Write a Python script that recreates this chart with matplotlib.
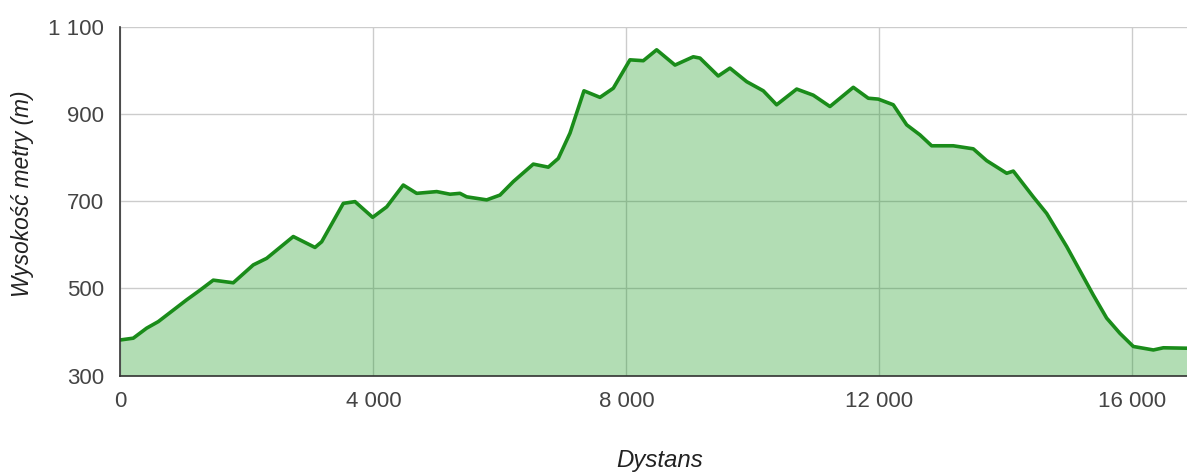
import numpy as np
import matplotlib.pyplot as plt
from matplotlib.ticker import FuncFormatter

# Profil wysokości trasy
dystans = [0, 202, 414, 598, 1047, 1257, 1467, 1573, 1783, 2100, 2311, 2732,
           3075, 3181, 3523, 3708, 3987, 4209, 4471, 4683, 5000, 5210, 5367,
           5473, 5790, 6000, 6211, 6527, 6764, 6922, 7107, 7328, 7581, 7792,
           8055, 8266, 8477, 8767, 9056, 9162, 9451, 9636, 9900, 10163, 10374,
           10691, 10953, 11217, 11586, 11823, 11981, 12218, 12430, 12640,
           12825, 13167, 13483, 13694, 14011, 14116, 14431, 14643, 14960,
           15380, 15592, 15802, 16013, 16330, 16488, 16862]
wysokosc = [382, 386, 409, 424, 474, 496, 519, 517, 513, 554, 569, 619,
            594, 607, 695, 699, 663, 687, 737, 718, 722, 716, 718,
            710, 703, 714, 745, 785, 778, 798, 856, 953, 938, 959,
            1024, 1022, 1047, 1012, 1031, 1028, 987, 1005, 974, 953, 921,
            957, 943, 917, 961, 936, 934, 921, 875, 852,
            827, 827, 820, 793, 764, 769, 710, 672, 596,
            485, 432, 397, 367, 359, 364, 363]

x_ticks = [0, 4000, 8000, 12000, 16000]
y_ticks = [300, 500, 700, 900, 1100]

plt.rcParams['font.family'] = ['Liberation Sans', 'DejaVu Sans']

fig = plt.figure(figsize=(11.87, 4.73), dpi=100)
ax = fig.add_axes([0.1015, 0.2057, 0.8985, 0.7379])

linia = '#1a8c1a'
ax.fill_between(dystans, 300, wysokosc, color='#109618', alpha=0.32, lw=0, zorder=2)
ax.plot(dystans, wysokosc, color=linia, lw=2.6, zorder=3, solid_joinstyle='round')

ax.set_xlim(0, 16862)
ax.set_ylim(300, 1100)
ax.set_xticks(x_ticks)
ax.set_yticks(y_ticks)

# separator tysięcy jako spacja
fmt = FuncFormatter(lambda v, p: f'{int(v):,}'.replace(',', ' '))
ax.xaxis.set_major_formatter(fmt)
ax.yaxis.set_major_formatter(fmt)

ax.grid(True, color='#cccccc', lw=1, zorder=1)
ax.set_axisbelow(True)
for s in ['top', 'right']:
    ax.spines[s].set_visible(False)
for s in ['left', 'bottom']:
    ax.spines[s].set_color('#333333')
    ax.spines[s].set_linewidth(1.2)
    ax.spines[s].set_zorder(4)

ax.tick_params(length=0, labelsize=16, labelcolor='#444444')
ax.tick_params(axis='x', pad=11)
ax.tick_params(axis='y', pad=12)

fig.text(22.5 / 1187, 1 - 194 / 473, 'Wysokość metry (m)', fontsize=16.3, style='italic',
         color='#222222', rotation=90, ha='center', va='center')
fig.text(660 / 1187, 1 - 460 / 473, 'Dystans', fontsize=17.3, style='italic',
         color='#222222', ha='center', va='center')

fig.savefig('out.png', dpi=100)
